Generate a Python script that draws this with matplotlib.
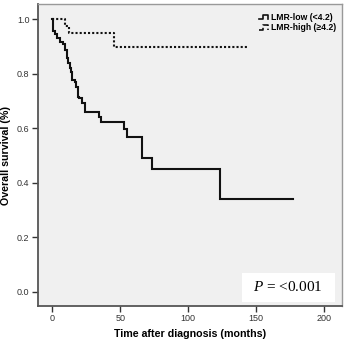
import matplotlib
matplotlib.use("Agg")
import matplotlib.pyplot as plt
from matplotlib.lines import Line2D
from matplotlib.patches import Rectangle
from matplotlib.legend_handler import HandlerBase

plt.rcParams["font.family"] = ["Liberation Sans", "DejaVu Sans"]
plt.rcParams["mathtext.fontset"] = "custom"
plt.rcParams["mathtext.it"] = "Liberation Serif:italic"
plt.rcParams["mathtext.rm"] = "Liberation Serif"

# Kaplan-Meier step data
low_t = [0, 0.7, 2, 3.2, 5.5, 8, 9.3, 10.6, 11.8, 13, 14, 14.8, 16.5, 17.8,
         19, 20, 22, 24, 34.3, 35.6, 52.7, 55, 66.2, 73, 123.3, 177]
low_s = [1.0, 0.958, 0.947, 0.93, 0.917, 0.91, 0.887, 0.856, 0.838, 0.82, 0.807,
         0.777, 0.771, 0.752, 0.716, 0.71, 0.691, 0.661, 0.642, 0.624, 0.597,
         0.567, 0.49, 0.45, 0.339, 0.339]
high_t = [0, 9.3, 12.3, 45.6, 144]
high_s = [1.0, 0.974, 0.948, 0.897, 0.897]

series_labels = ["LMR-low (<4.2)", "LMR-high (\u22654.2)"]
x_ticks = [0, 50, 100, 150, 200]
y_ticks = [0.0, 0.2, 0.4, 0.6, 0.8, 1.0]
x_label = "Time after diagnosis (months)"
y_label = "Overall survival (%)"


class StepHandler(HandlerBase):
    def create_artists(self, legend, orig_handle, xdescent, ydescent, width, height,
                       fontsize, trans):
        x0, x1 = -xdescent, -xdescent + width
        xm = x0 + 0.5 * width
        ylo, yhi = -ydescent + 0.15 * height, -ydescent + 0.85 * height
        ln = Line2D([x0, xm, xm, x1, x1], [ylo, ylo, yhi, yhi, ylo],
                    color=orig_handle.get_color(), lw=orig_handle.get_linewidth(),
                    linestyle=orig_handle.get_linestyle(), transform=trans)
        return [ln]


fig = plt.figure(figsize=(3.45, 3.42), dpi=100)
ax = fig.add_axes([0.110, 0.105, 0.881, 0.883])
ax.set_facecolor("#f0f0f0")

ax.step(low_t, low_s, where="post", color="#111111", lw=1.5, solid_joinstyle="miter")
ax.step(high_t, high_s, where="post", color="#111111", lw=1.5, linestyle=(0, (1, 1)))

ax.set_xlim(-10.5, 213)
ax.set_ylim(-0.052, 1.055)
ax.set_xticks(x_ticks)
ax.set_yticks(y_ticks)
ax.set_xticklabels([str(v) for v in x_ticks])
ax.set_yticklabels([f"{v:.1f}" for v in y_ticks])
ax.tick_params(axis="both", labelsize=6.5, colors="#333333", length=4, width=1, direction="out", pad=2)

for side in ["left", "bottom"]:
    ax.spines[side].set_color("#555555")
    ax.spines[side].set_linewidth(1.3)
for side in ["top", "right"]:
    ax.spines[side].set_color("#999999")
    ax.spines[side].set_linewidth(1.0)

ax.set_xlabel(x_label, fontsize=7.7, fontweight="bold", labelpad=4)
ax.set_ylabel(y_label, fontsize=7.7, fontweight="bold", labelpad=4)

handles = [Line2D([], [], color="#111111", lw=1.2),
           Line2D([], [], color="#111111", lw=1.2, linestyle=(0, (1, 1)))]
leg = ax.legend(handles, series_labels, loc="upper right", bbox_to_anchor=(1.0, 0.99),
                frameon=False, prop={"size": 6.2, "weight": "bold"},
                handlelength=1.1, handletextpad=0.3, labelspacing=0.15, borderaxespad=0.3,
                handler_map={Line2D: StepHandler()})

# P-value box
ax.add_patch(Rectangle((0.671, 0.013), 0.305, 0.098, transform=ax.transAxes,
                       facecolor="white", edgecolor="none", zorder=3))
ax.text(0.823, 0.062, "$P$ = <0.001", transform=ax.transAxes, ha="center", va="center",
        fontsize=11, family="Liberation Serif", zorder=4)

fig.savefig("out.png", dpi=100, facecolor="white")
